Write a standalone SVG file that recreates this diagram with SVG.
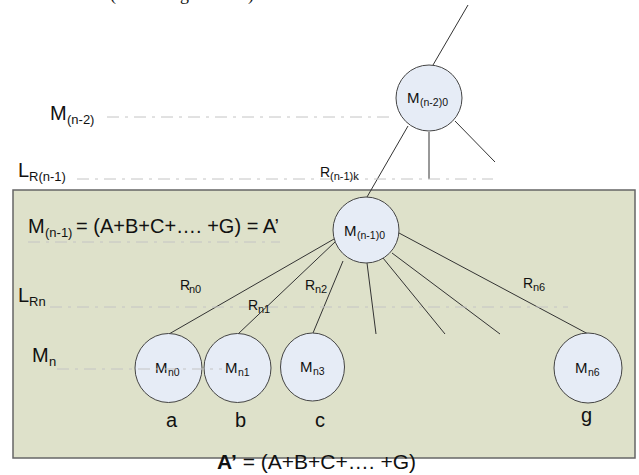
<svg xmlns="http://www.w3.org/2000/svg" width="639" height="475" viewBox="0 0 639 475">
<style>
text{font-family:"Liberation Sans",Arial,sans-serif;fill:#111}
.big{font-size:20px}
.bsub{font-size:13px}
.nm{font-size:15px}
.ns{font-size:10.5px}
.rl{font-size:14px}
.rs{font-size:11px}
.top{font-family:"Liberation Serif",serif;font-size:18px}
.node{fill:#e6ecf6;stroke:#444;stroke-width:1}
.conn line{stroke:#333;stroke-width:1}
.dash{stroke:#c4c4c4;stroke-width:1;stroke-dasharray:12 6 3 6;fill:none}
</style>
<text class="top" x="110" y="0">(</text>
<text class="top" x="180" y="0">g</text>
<text class="top" x="248" y="0">)</text>
<rect x="13" y="190" width="622" height="268" fill="#dee1ca" stroke="#666" stroke-width="1.5"/>
<g id="connectors" class="conn">
<line x1="468" y1="5" x2="433" y2="65"/>
<line x1="408" y1="126" x2="367" y2="197"/>
<line x1="429" y1="132" x2="429" y2="179"/>
<line x1="455" y1="121" x2="495" y2="162"/>
<line x1="334" y1="239" x2="169" y2="334"/>
<line x1="335" y1="242" x2="238" y2="334"/>
<line x1="343" y1="261" x2="313" y2="333"/>
<line x1="367" y1="263" x2="376" y2="334"/>
<line x1="383" y1="258" x2="445" y2="334"/>
<line x1="392" y1="253" x2="500" y2="334"/>
<line x1="399" y1="233" x2="590" y2="335"/>
</g>
<g id="node-Mn2_0">
<circle class="node" cx="429" cy="98" r="33"/>
<text class="nm" x="407" y="103">M</text><text class="ns" x="420" y="106">(n-2)0</text>
</g>
<g id="node-Mn1_0">
<circle class="node" cx="366" cy="230" r="33"/>
<text class="nm" x="344" y="236">M</text><text class="ns" x="357" y="239">(n-1)0</text>
</g>
<g id="node-Mn0">
<ellipse class="node" cx="168.5" cy="368" rx="33.5" ry="34.5"/>
<text class="nm" x="155" y="373">M</text><text class="ns" x="168" y="376">n0</text>
</g>
<g id="node-Mn1">
<ellipse class="node" cx="237.5" cy="368" rx="33.5" ry="34.5"/>
<text class="nm" x="225" y="373">M</text><text class="ns" x="238" y="376">n1</text>
</g>
<g id="node-Mn3">
<ellipse class="node" cx="312.5" cy="367" rx="32" ry="34"/>
<text class="nm" x="300" y="372">M</text><text class="ns" x="313" y="375">n3</text>
</g>
<g id="node-Mn6">
<ellipse class="node" cx="588" cy="368" rx="34" ry="35"/>
<text class="nm" x="575" y="373">M</text><text class="ns" x="588" y="376">n6</text>
</g>
<g id="levels">
<line class="dash" x1="107" y1="117" x2="390" y2="117"/>
<line class="dash" x1="77" y1="179" x2="493" y2="179"/>
<line class="dash" x1="28" y1="242" x2="280" y2="242"/>
<line class="dash" x1="50" y1="307" x2="568" y2="307"/>
<line class="dash" x1="57" y1="369" x2="222" y2="369"/>
</g>
<g id="labels">
<text class="big" x="50" y="120">M</text><text class="bsub" x="67" y="124">(n-2)</text>
<text class="big" x="18" y="177">L</text><text class="bsub" x="29" y="181">R(n-1)</text>
<text class="rl" x="320" y="177">R</text><text class="rs" x="330" y="180">(n-1)k</text>
<text class="big" x="28" y="233">M</text><text class="bsub" x="45" y="237">(n-1)</text><text class="big" x="76" y="233"> = (A+B+C+…. +G) = A’</text>
<text class="big" x="18" y="302">L</text><text class="bsub" x="29" y="306">Rn</text>
<text class="rl" x="180" y="290">R</text><text class="rs" x="189" y="293">n0</text>
<text class="rl" x="248" y="310">R</text><text class="rs" x="258" y="313">n1</text>
<text class="rl" x="305" y="290">R</text><text class="rs" x="315" y="293">n2</text>
<text class="rl" x="523" y="288">R</text><text class="rs" x="533" y="291">n6</text>
<text class="big" x="32" y="362">M</text><text class="bsub" x="49" y="366">n</text>
<text class="big" x="166" y="427">a</text>
<text class="big" x="235" y="427">b</text>
<text class="big" x="315" y="427">c</text>
<text class="big" x="581" y="422">g</text>
<text x="217" y="469" style="font-size:21px"><tspan font-weight="bold">A’</tspan> = (A+B+C+…. +G)</text>
</g>
</svg>
